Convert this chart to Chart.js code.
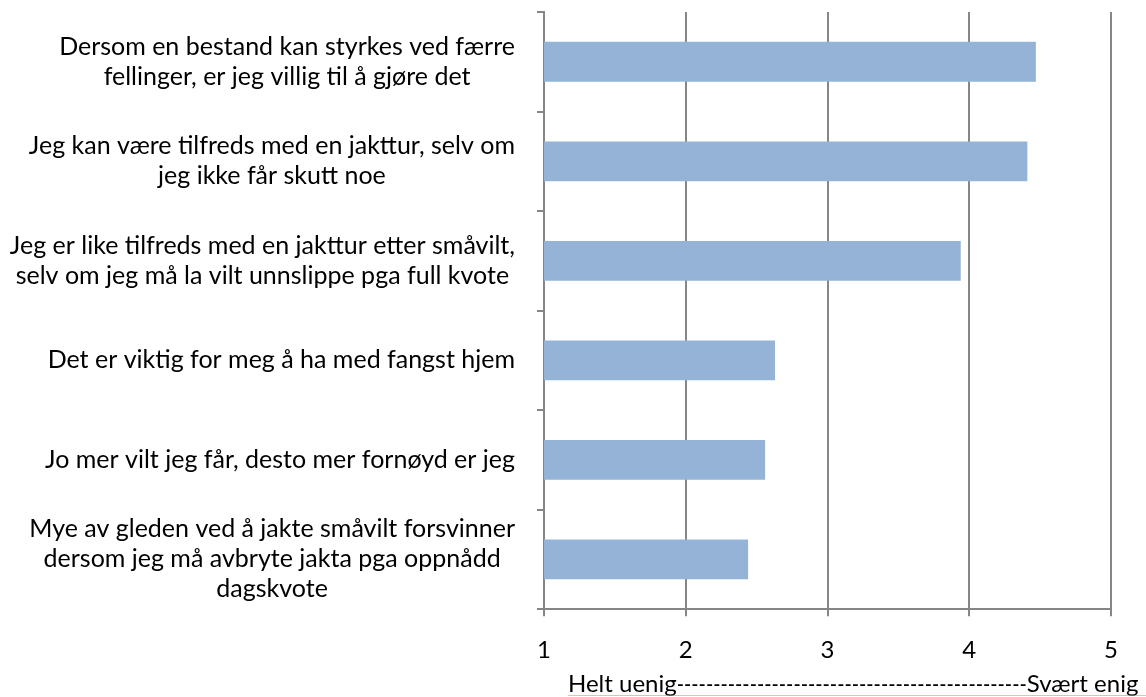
<!DOCTYPE html>
<html>
<head>
<meta charset="utf-8">
<script src="https://cdn.jsdelivr.net/npm/chart.js@4/dist/chart.umd.min.js"></script>
<style>
  body { margin: 0; background: #fff; }
  #wrap { width: 1146px; height: 697px; }
</style>
</head>
<body>
<div id="wrap"><canvas id="graph_results" width="1146" height="697"></canvas></div>
<script>
// statements (top to bottom), each one split into lines
let statements = [
    ["Dersom en bestand kan styrkes ved færre", "fellinger, er jeg villig til å gjøre det"],
    ["Jeg kan være tilfreds med en jakttur, selv om", "jeg ikke får skutt noe"],
    ["Jeg er like tilfreds med en jakttur etter småvilt,", "selv om jeg må la vilt unnslippe pga full kvote"],
    ["Det er viktig for meg å ha med fangst hjem"],
    ["Jo mer vilt jeg får, desto mer fornøyd er jeg"],
    ["Mye av gleden ved å jakte småvilt forsvinner", "dersom jeg må avbryte jakta pga oppnådd", "dagskvote"]
];
// mean score 1-5
let meanScore = [4.47, 4.41, 3.94, 2.63, 2.56, 2.44];
let scaleTicks = [1, 2, 3, 4, 5];
let titleLeft = "Helt uenig";
let titleDashes = "-".repeat(48);
let titleRight = "Svært enig";

let fontName = "Lato, 'Open Sans', sans-serif";
let gridColor = "#868686";

// category labels: each block is centred on its own widest line,
// and all blocks are pushed against the axis (like Excel does it)
let labelPlugin = {
    id: "blockLabels",
    afterDraw: function(chart) {
        let ctx = chart.ctx;
        let yAxis = chart.scales.y;
        let lineH = 30;
        ctx.save();
        ctx.font = "25px " + fontName;
        ctx.fillStyle = "#000";
        ctx.textBaseline = "middle";
        ctx.textAlign = "center";
        yAxis.getLabels().forEach(function(lines, i) {
            let widest = 0;
            lines.forEach(function(l) { widest = Math.max(widest, ctx.measureText(l).width); });
            let cx = yAxis.right - 29 - widest / 2;
            let cy = yAxis.getPixelForTick(i) - (lines.length - 1) * lineH / 2;
            lines.forEach(function(l, k) { ctx.fillText(l, cx, cy + k * lineH); });
        });
        ctx.restore();
    }
};

// x axis title, drawn by hand so it can sit right of the plot start
let titlePlugin = {
    id: "axisTitle",
    afterDraw: function(chart) {
        let ctx = chart.ctx;
        let x = chart.scales.x;
        ctx.save();
        ctx.font = "24px " + fontName;
        ctx.fillStyle = "#000";
        ctx.textBaseline = "middle";
        ctx.textAlign = "left";
        let pos = x.left + 24;
        let y = 684;
        ctx.fillText(titleLeft, pos, y);
        pos += ctx.measureText(titleLeft).width;
        // dashes are squeezed a bit, Lato hyphens are wider
        ctx.fillText(titleDashes, pos, y, 350);
        pos += Math.min(350, ctx.measureText(titleDashes).width);
        ctx.fillText(titleRight, pos, y);
        // faint red spell check line
        ctx.strokeStyle = "rgba(240,120,120,0.55)";
        ctx.lineWidth = 1;
        ctx.beginPath();
        ctx.moveTo(x.left + 24, 695.5);
        ctx.lineTo(chart.width, 695.5);
        ctx.stroke();
        ctx.restore();
    }
};

let ctx = document.getElementById("graph_results").getContext("2d");
let chart = new Chart(ctx, {
    type: "bar",
    data: {
        labels: statements,
        datasets: [{
            data: meanScore,
            backgroundColor: "#95b3d7",
            borderWidth: 0,
            categoryPercentage: 1,
            barPercentage: 0.4
        }]
    },
    options: {
        indexAxis: "y",
        responsive: false,
        animation: false,
        layout: { padding: { top: 12, right: 35, bottom: 12, left: 6 } },
        plugins: {
            legend: { display: false },
            tooltip: { enabled: false }
        },
        scales: {
            x: {
                min: scaleTicks[0],
                max: scaleTicks[scaleTicks.length - 1],
                afterBuildTicks: function(axis) {
                    axis.ticks = scaleTicks.map(function(v) { return { value: v }; });
                },
                grid: { color: gridColor, lineWidth: 2, tickLength: 7 },
                border: { color: gridColor, width: 2 },
                ticks: { color: "#000", padding: 20, font: { family: fontName, size: 24, lineHeight: 1.2 } }
            },
            y: {
                grid: { drawOnChartArea: false, color: gridColor, lineWidth: 2, tickLength: 7, offset: true },
                border: { color: gridColor, width: 2 },
                ticks: { display: false, autoSkip: false },
                // room for the labels drawn by labelPlugin
                afterFit: function(axis) {
                    axis.paddingTop = 0;
                    axis.paddingBottom = 0;
                    axis.width = 538;
                }
            }
        }
    },
    plugins: [labelPlugin, titlePlugin]
});
</script>
</body>
</html>
